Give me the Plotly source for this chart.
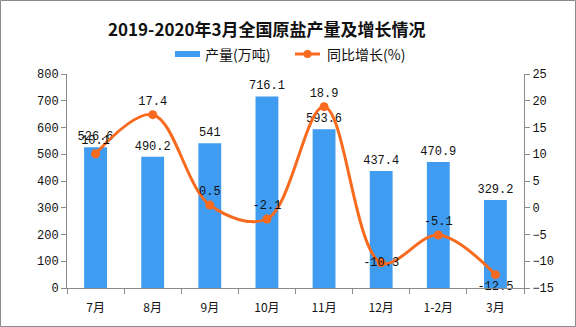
import plotly.graph_objects as go

categories = ["7月", "8月", "9月", "10月", "11月", "12月", "1-2月", "3月"]
production = [526.6, 490.2, 541, 716.1, 593.6, 437.4, 470.9, 329.2]
growth = [10.1, 17.4, 0.5, -2.1, 18.9, -10.3, -5.1, -12.5]
growth_text_pos = ["top center", "top center", "top center", "top center",
                   "top center", "middle center", "top center", "bottom center"]

title_text = "2019-2020年3月全国原盐产量及增长情况"
bar_name = "产量(万吨)"
line_name = "同比增长(%)"

BLUE = "#3f9cf0"
ORANGE = "#f86a1e"
AXIS = "#8a8a8a"
MONO = "Liberation Mono, DejaVu Sans Mono, monospace"
CJK = "Noto Sans CJK SC, sans-serif"

W, H = 576, 327
L, R, T, B = 67, 52, 74, 39
pw, ph = W - L - R, H - T - B


def px(x):
    return (x - L) / pw


def py(y):
    return (H - B - y) / ph


fig = go.Figure()
fig.add_trace(go.Bar(
    x=categories, y=production, name=bar_name,
    marker=dict(color=BLUE, line=dict(width=0)),
    width=0.4,
    text=[f"{v:g}" for v in production], textposition="outside",
    constraintext="none",
    textfont=dict(family=MONO, size=12, color="#111"),
    cliponaxis=False, yaxis="y",
))
fig.add_trace(go.Scatter(
    x=categories, y=growth, name=line_name, yaxis="y2",
    mode="lines+markers+text",
    line=dict(color=ORANGE, width=3, shape="spline", smoothing=1),
    marker=dict(color=ORANGE, size=9),
    text=[f"{v:g}" for v in growth], textposition=growth_text_pos,
    textfont=dict(family=MONO, size=12, color="#111"),
    cliponaxis=False,
))

legend_shapes = [
    dict(type="rect", xref="paper", yref="paper",
         x0=px(175), x1=px(200), y0=py(57), y1=py(51),
         fillcolor=BLUE, line=dict(width=0)),
    dict(type="line", xref="paper", yref="paper",
         x0=px(295), x1=px(320), y0=py(54), y1=py(54),
         line=dict(color=ORANGE, width=3)),
    dict(type="circle", xref="paper", yref="paper",
         x0=px(303.5), x1=px(311.5), y0=py(58), y1=py(50),
         fillcolor=ORANGE, line=dict(width=0)),
]

fig.update_layout(
    width=W, height=H,
    margin=dict(l=L, r=R, t=T, b=B, pad=0),
    paper_bgcolor="white", plot_bgcolor="white",
    showlegend=False,
    xaxis=dict(type="category", showline=True, linecolor=AXIS, linewidth=1,
               ticks="outside", tickson="boundaries", ticklen=5, tickcolor=AXIS,
               showgrid=False, tickfont=dict(family=CJK, size=12, color="#111"),
               ticklabelstandoff=9),
    yaxis=dict(range=[0, 800], dtick=100, showline=True, linecolor=AXIS,
               ticks="outside", ticklen=5, tickcolor=AXIS, showgrid=False,
               zeroline=False, tickfont=dict(family=MONO, size=12, color="#111")),
    yaxis2=dict(range=[-15, 25], dtick=5, overlaying="y", side="right",
                showline=True, linecolor=AXIS, ticks="outside", ticklen=5,
                tickcolor=AXIS, showgrid=False, zeroline=False,
                tickfont=dict(family=MONO, size=12, color="#111")),
    annotations=[
        dict(text=f"<b>{title_text}</b>", x=px(267), xref="paper",
             y=py(29), yref="paper", showarrow=False,
             xanchor="center", yanchor="middle",
             font=dict(family=CJK, size=17, color="#111")),
        dict(text=bar_name, x=px(203), xref="paper", y=py(54), yref="paper",
             showarrow=False, xanchor="left", yanchor="middle",
             font=dict(family=CJK, size=14, color="#111")),
        dict(text=line_name, x=px(325), xref="paper", y=py(54), yref="paper",
             showarrow=False, xanchor="left", yanchor="middle",
             font=dict(family=CJK, size=14, color="#111")),
    ],
    shapes=[dict(type="rect", xref="paper", yref="paper",
                 x0=px(0.5), x1=px(W - 0.5),
                 y0=py(H - 0.5), y1=py(0.5),
                 line=dict(color=AXIS, width=1), fillcolor="rgba(0,0,0,0)")]
    + legend_shapes,
)

fig.write_html("out.html")
